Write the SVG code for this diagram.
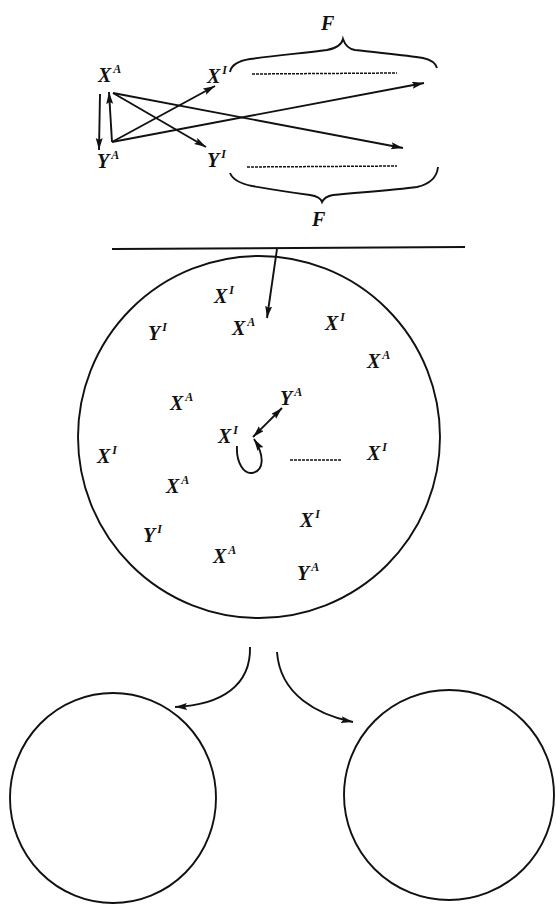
<svg xmlns="http://www.w3.org/2000/svg" width="556" height="904" viewBox="0 0 556 904">
<style>
.t{font-family:"Liberation Serif",serif;font-style:italic;font-weight:bold;font-size:20px;fill:#111}
.s{font-size:12px}
.ln{stroke:#111;stroke-width:1.9;fill:none}
.dot{stroke:#111;stroke-width:1.5;stroke-dasharray:3 1;fill:none}
</style>
<defs>
<marker id="ah" markerUnits="userSpaceOnUse" markerWidth="13" markerHeight="8" refX="12" refY="3.5" orient="auto-start-reverse">
<path d="M0,0 L12,3.5 L0,7 L2,3.5 z" fill="#111"/>
</marker>
</defs>
<rect width="556" height="904" fill="#fff"/>

<g id="top-section">
<g id="label-XA-top"><text class="t" x="98" y="82">X<tspan class="s" dx="2" dy="-9">A</tspan></text></g>
<g id="label-YA-top"><text class="t" x="97" y="168">Y<tspan class="s" dx="2" dy="-9">A</tspan></text></g>
<g id="label-XI-top"><text class="t" x="207" y="83">X<tspan class="s" dx="2" dy="-9">I</tspan></text></g>
<g id="label-YI-top"><text class="t" x="207" y="167">Y<tspan class="s" dx="2" dy="-9">I</tspan></text></g>
<g id="label-F-top"><text class="t" x="321" y="30">F</text></g>
<g id="label-F-bottom"><text class="t" x="312" y="226">F</text></g>
<g id="brace-top"><path class="ln" d="M230,72 C231,66 238,61 250,59 C280,55 305,53 327,50 C337,48 342,44 343,39 C345,45 348,49 355,50 C380,53 405,55 423,58 C432,60 436,64 437,68"/>
<path class="dot" d="M252,74 L397,73"/></g>
<g id="brace-bottom"><path class="ln" d="M230,173 C232,178 238,183 252,186 C275,190 295,193 310,195 C317,196 321,199 322,202 C324,198 327,196 333,195 C365,192 395,190 417,187 C430,184 437,177 438,167"/>
<path class="dot" d="M247,167 L397,166"/></g>
</g>

<g id="top-connectors">
<line class="ln" x1="100" y1="94" x2="99" y2="150" marker-end="url(#ah)"/>
<line class="ln" x1="112" y1="142" x2="109" y2="92" marker-end="url(#ah)"/>
<line class="ln" x1="113" y1="93" x2="206" y2="147" marker-end="url(#ah)"/>
<line class="ln" x1="113" y1="93" x2="403" y2="148" marker-end="url(#ah)"/>
<line class="ln" x1="112" y1="142" x2="215" y2="86" marker-end="url(#ah)"/>
<line class="ln" x1="112" y1="142" x2="424" y2="83" marker-end="url(#ah)"/>
</g>

<g id="divider"><line class="ln" x1="112" y1="249" x2="465" y2="247"/></g>

<g id="big-circle">
<circle class="ln" cx="259" cy="437" r="181"/>
<text class="t" x="214" y="303">X<tspan class="s" dx="2" dy="-9">I</tspan></text>
<text class="t" x="148" y="340">Y<tspan class="s" dx="2" dy="-9">I</tspan></text>
<text class="t" x="232" y="335">X<tspan class="s" dx="2" dy="-9">A</tspan></text>
<text class="t" x="325" y="330">X<tspan class="s" dx="2" dy="-9">I</tspan></text>
<text class="t" x="367" y="368">X<tspan class="s" dx="2" dy="-9">A</tspan></text>
<text class="t" x="170" y="410">X<tspan class="s" dx="2" dy="-9">A</tspan></text>
<text class="t" x="280" y="405">Y<tspan class="s" dx="2" dy="-9">A</tspan></text>
<text class="t" x="218" y="443">X<tspan class="s" dx="2" dy="-9">I</tspan></text>
<text class="t" x="97" y="463">X<tspan class="s" dx="2" dy="-9">I</tspan></text>
<text class="t" x="367" y="460">X<tspan class="s" dx="2" dy="-9">I</tspan></text>
<text class="t" x="166" y="493">X<tspan class="s" dx="2" dy="-9">A</tspan></text>
<text class="t" x="300" y="527">X<tspan class="s" dx="2" dy="-9">I</tspan></text>
<text class="t" x="143" y="542">Y<tspan class="s" dx="2" dy="-9">I</tspan></text>
<text class="t" x="213" y="563">X<tspan class="s" dx="2" dy="-9">A</tspan></text>
<text class="t" x="297" y="580">Y<tspan class="s" dx="2" dy="-9">A</tspan></text>
<path class="dot" d="M290,460 L342,460"/>
</g>

<g id="left-circle"><ellipse class="ln" cx="113" cy="798" rx="103" ry="105"/></g>
<g id="right-circle"><ellipse class="ln" cx="449" cy="795" rx="105" ry="105"/></g>

<g id="connectors">
<line class="ln" x1="277" y1="249" x2="267" y2="318" marker-end="url(#ah)"/>
<line class="ln" x1="253" y1="437" x2="282" y2="408" marker-start="url(#ah)" marker-end="url(#ah)"/>
<path class="ln" d="M237,446 C236,463 244,474 252,473 C264,471 265,456 254,439" marker-end="url(#ah)"/>
<path class="ln" d="M250,647 C251,685 222,705 175,707" marker-end="url(#ah)"/>
<path class="ln" d="M277,652 C280,695 318,715 353,722" marker-end="url(#ah)"/>
</g>
</svg>
